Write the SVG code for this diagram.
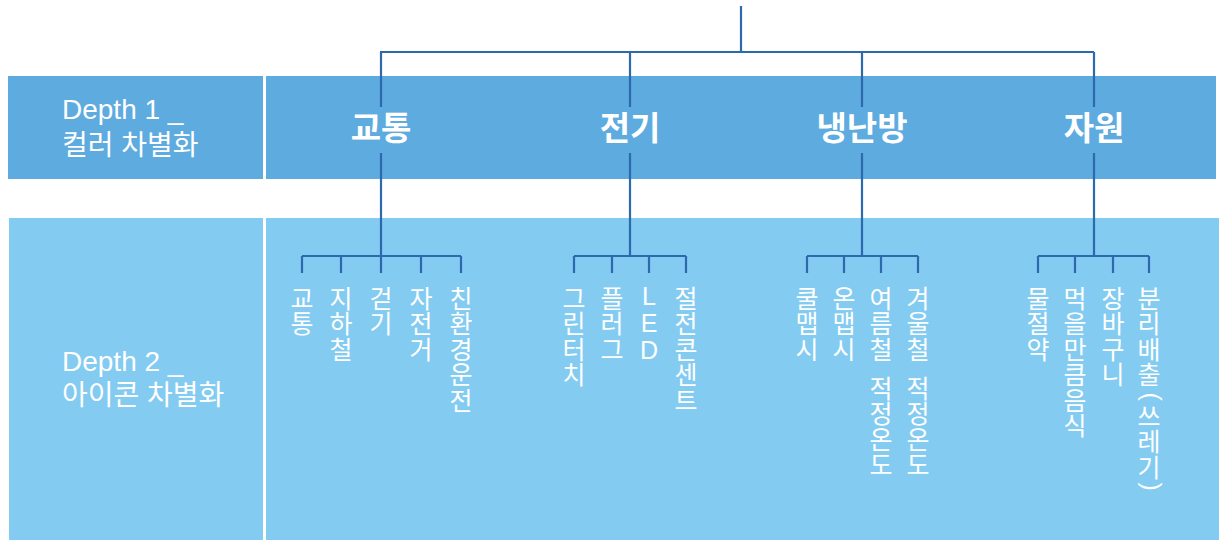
<svg xmlns="http://www.w3.org/2000/svg" width="1219" height="540" viewBox="0 0 1219 540">
<style>
.band1{fill:#5eabdf}
.band2{fill:#83cbf1}
.conn{stroke:#2d69ad;stroke-width:2.2;fill:none}
.lat{font-family:"Liberation Sans","Noto Sans CJK KR",sans-serif;font-size:28px;fill:#fff}
.kor{font-family:"Liberation Sans","Noto Sans CJK KR",sans-serif;font-size:28px;fill:#fff}
.hdr{font-family:"Noto Sans CJK KR",sans-serif;font-weight:bold;font-size:33px;fill:#fff;text-anchor:middle}
.v{font-family:"Liberation Sans","Noto Sans CJK KR",sans-serif;font-size:25px;fill:#fff;text-anchor:middle}
</style>
<rect width="1219" height="540" fill="#ffffff"/>
<g id="bands">
<rect class="band1" x="8" y="76" width="255" height="103"/>
<rect class="band1" x="266" y="76" width="950" height="103"/>
<rect class="band2" x="9" y="218" width="254" height="322"/>
<rect class="band2" x="266" y="218" width="953" height="322"/>
</g>
<g id="row-labels">
<g id="depth1">
<text class="lat" x="62" y="119">Depth 1 _</text>
<text class="kor" x="62" y="155">컬러 차별화</text>
</g>
<g id="depth2">
<text class="lat" x="62" y="371">Depth 2 _</text>
<text class="kor" x="62" y="405">아이콘 차별화</text>
</g>
</g>
<g id="connectors">
<path class="conn" d="M741 6V52M380 52H1094M381 52V107M630 52V107M862 52V107M1094 52V107"/>
<path class="conn" d="M381 153V256M630 153V256M862 153V256M1094 153V256"/>
<path class="conn" d="M302 256H461M302 256V273M341 256V273M381 256V273M421 256V273M461 256V273"/>
<path class="conn" d="M574 256H686M574 256V273M612 256V273M649 256V273M686 256V273"/>
<path class="conn" d="M807 256H918M807 256V273M844 256V273M881 256V273M918 256V273"/>
<path class="conn" d="M1038 256H1149M1038 256V273M1075 256V273M1113 256V273M1149 256V273"/>
</g>
<g id="cat-transport"><text class="hdr" x="381" y="140">교통</text></g>
<g id="cat-electric"><text class="hdr" x="630" y="140">전기</text></g>
<g id="cat-heating"><text class="hdr" x="862" y="140">냉난방</text></g>
<g id="cat-resource"><text class="hdr" x="1094" y="140">자원</text></g>

<g id="n-transport"><text class="v" x="302" y="307.5"><tspan x="302">교</tspan><tspan x="302" dy="25.5">통</tspan></text></g>
<g id="n-subway"><text class="v" x="341" y="307.5"><tspan x="341">지</tspan><tspan x="341" dy="25.5">하</tspan><tspan x="341" dy="25.5">철</tspan></text></g>
<g id="n-walk"><text class="v" x="381" y="307.5"><tspan x="381">걷</tspan><tspan x="381" dy="25.5">기</tspan></text></g>
<g id="n-bike"><text class="v" x="421" y="307.5"><tspan x="421">자</tspan><tspan x="421" dy="25.5">전</tspan><tspan x="421" dy="25.5">거</tspan></text></g>
<g id="n-ecodrive"><text class="v" x="461" y="307.5"><tspan x="461">친</tspan><tspan x="461" dy="25.5">환</tspan><tspan x="461" dy="25.5">경</tspan><tspan x="461" dy="25.5">운</tspan><tspan x="461" dy="25.5">전</tspan></text></g>

<g id="n-greentouch"><text class="v" x="574" y="307.5"><tspan x="574">그</tspan><tspan x="574" dy="25.5">린</tspan><tspan x="574" dy="25.5">터</tspan><tspan x="574" dy="25.5">치</tspan></text></g>
<g id="n-plug"><text class="v" x="612" y="307.5"><tspan x="612">플</tspan><tspan x="612" dy="25.5">러</tspan><tspan x="612" dy="25.5">그</tspan></text></g>
<g id="n-led"><text class="v" x="649" y="305" style="font-size:25px"><tspan x="649">L</tspan><tspan x="649" dy="27">E</tspan><tspan x="649" dy="27">D</tspan></text></g>
<g id="n-outlet"><text class="v" x="686" y="307.5"><tspan x="686">절</tspan><tspan x="686" dy="25.5">전</tspan><tspan x="686" dy="25.5">콘</tspan><tspan x="686" dy="25.5">센</tspan><tspan x="686" dy="25.5">트</tspan></text></g>

<g id="n-coolbiz"><text class="v" x="807" y="307.5"><tspan x="807">쿨</tspan><tspan x="807" dy="25.5">맵</tspan><tspan x="807" dy="25.5">시</tspan></text></g>
<g id="n-warmbiz"><text class="v" x="844" y="307.5"><tspan x="844">온</tspan><tspan x="844" dy="25.5">맵</tspan><tspan x="844" dy="25.5">시</tspan></text></g>
<g id="n-summer"><text class="v" x="881" y="307.5"><tspan x="881">여</tspan><tspan x="881" dy="25.5">름</tspan><tspan x="881" dy="25.5">철</tspan><tspan x="877.5" dy="39"> 적</tspan><tspan x="881" dy="25.5">정</tspan><tspan x="881" dy="25.5">온</tspan><tspan x="881" dy="25.5">도</tspan></text></g>
<g id="n-winter"><text class="v" x="918" y="307.5"><tspan x="918">겨</tspan><tspan x="918" dy="25.5">울</tspan><tspan x="918" dy="25.5">철</tspan><tspan x="914.5" dy="39"> 적</tspan><tspan x="918" dy="25.5">정</tspan><tspan x="918" dy="25.5">온</tspan><tspan x="918" dy="25.5">도</tspan></text></g>

<g id="n-water"><text class="v" x="1038" y="307.5"><tspan x="1038">물</tspan><tspan x="1038" dy="25.5">절</tspan><tspan x="1038" dy="25.5">약</tspan></text></g>
<g id="n-food"><text class="v" x="1075" y="307.5"><tspan x="1075">먹</tspan><tspan x="1075" dy="25.5">을</tspan><tspan x="1075" dy="25.5">만</tspan><tspan x="1075" dy="25.5">큼</tspan><tspan x="1075" dy="25.5">음</tspan><tspan x="1075" dy="25.5">식</tspan></text></g>
<g id="n-basket"><text class="v" x="1113" y="307.5"><tspan x="1113">장</tspan><tspan x="1113" dy="25.5">바</tspan><tspan x="1113" dy="25.5">구</tspan><tspan x="1113" dy="25.5">니</tspan></text></g>
<g id="n-recycle"><text class="v" x="1149" y="307.5"><tspan x="1149">분</tspan><tspan x="1149" dy="25.5">리</tspan><tspan x="1149" dy="25.5">배</tspan><tspan x="1149" dy="25.5">출</tspan><tspan x="1142.5" y="392.5" rotate="90" style="text-anchor:start">(</tspan><tspan x="1149" y="425.5">쓰</tspan><tspan x="1149" dy="25.5">레</tspan><tspan x="1149" dy="25.5">기</tspan><tspan x="1142.5" y="482.5" rotate="90" style="text-anchor:start">)</tspan></text></g>
</svg>
